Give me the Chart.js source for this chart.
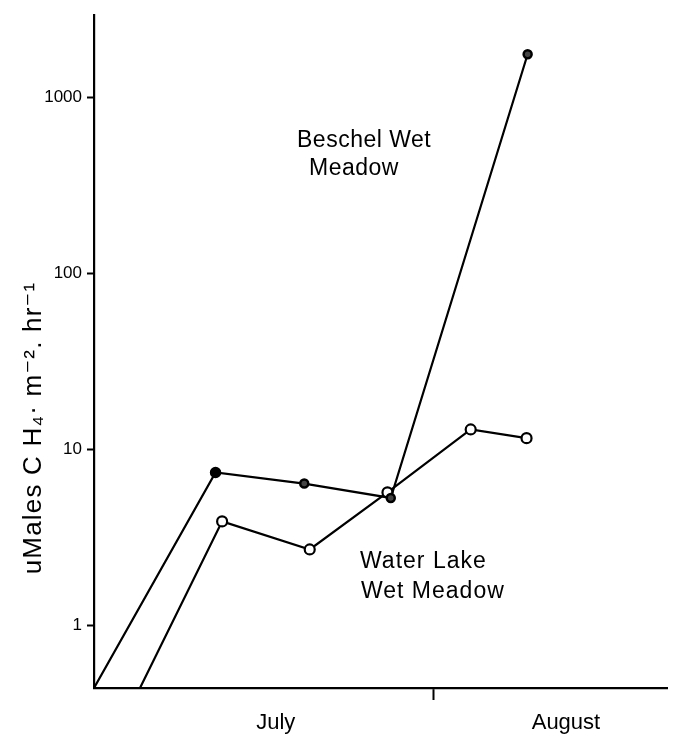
<!DOCTYPE html>
<html>
<head>
<meta charset="utf-8">
<script src="https://cdn.jsdelivr.net/npm/chart.js@4"></script>
<style>
  body { margin: 0; background: #fff; }
  canvas { display: block; }
</style>
</head>
<body>
<canvas id="fluxChart" width="675" height="747"></canvas>
<script>
// days counted from 1 July, flux in uMoles CH4 per m2 per hour
const beschelDays = [0, 11.1, 19.2, 27.1, 39.6];
const beschelFlux = [0.44, 7.4, 6.4, 5.3, 1770];
const waterDays = [4.2, 11.7, 19.7, 26.8, 34.4, 39.5];
const waterFlux = [0.44, 3.9, 2.7, 5.7, 13.0, 11.6];

const yTicks = [1, 10, 100, 1000];
const monthTicks = [16.6, 43.1];
const monthLabels = ["July", "August"];
const monthBoundary = 31;

const FONT = "'Liberation Sans', Arial, 'DejaVu Sans', sans-serif";

const ctx = document.getElementById("fluxChart").getContext("2d");

function toPoints(xs, ys) {
  return xs.map((x, i) => ({ x, y: ys[i] }));
}

const textPlugin = {
  id: "figureText",
  afterDraw(chart) {
    const c = chart.ctx;
    c.save();
    c.fillStyle = "#000";
    c.textBaseline = "alphabetic";
    c.textAlign = "left";

    // series names
    c.font = "23px " + FONT;
    c.letterSpacing = "0.5px";
    c.fillText("Beschel Wet", 297, 147);
    c.fillText("Meadow", 309, 175);
    c.letterSpacing = "1px";
    c.fillText("Water Lake", 360, 568);
    c.fillText("Wet Meadow", 361, 598);

    // y axis title
    c.letterSpacing = "1.2px";
    c.font = "26px " + FONT;
    c.translate(41, 428);
    c.rotate(-Math.PI / 2);
    c.textAlign = "center";
    c.fillText("uMales C H\u2084\u00b7 m\u207b\u00b2. hr\u207b\u00b9", 0, 0);
    c.restore();
  },
};

const chart = new Chart(ctx, {
  type: "line",
  data: {
    datasets: [
      {
        label: "Beschel Wet Meadow",
        data: toPoints(beschelDays, beschelFlux),
        borderColor: "#000",
        borderWidth: 2.2,
        pointRadius: [0, 4.5, 4, 4, 4],
        pointBackgroundColor: ["#000", "#000", "#444", "#444", "#444"],
        pointBorderColor: "#000",
        pointBorderWidth: 2.5,
        tension: 0,
      },
      {
        label: "Water Lake Wet Meadow",
        data: toPoints(waterDays, waterFlux),
        borderColor: "#000",
        borderWidth: 2.2,
        pointRadius: [0, 5, 5, 5, 5, 5],
        pointBackgroundColor: "#fff",
        pointBorderColor: "#000",
        pointBorderWidth: 2.2,
        tension: 0,
      },
    ],
  },
  options: {
    responsive: false,
    devicePixelRatio: 1,
    animation: false,
    layout: { padding: { top: 12, right: 5, left: 0, bottom: 0 } },
    plugins: {
      legend: { display: false },
      tooltip: { enabled: false },
    },
    scales: {
      x: {
        type: "linear",
        min: 0,
        max: 52.4,
        afterBuildTicks: (scale) => {
          scale.ticks = [monthTicks[0], monthBoundary, monthTicks[1]].map((v) => ({ value: v }));
        },
        afterFit: (scale) => {
          scale.height = 59;
        },
        grid: {
          drawOnChartArea: false,
          tickLength: 12,
          tickWidth: 2,
          tickColor: (c) => (c.tick && c.tick.value === monthBoundary ? "#000" : "rgba(0,0,0,0)"),
        },
        border: { display: true, color: "#000", width: 2.2 },
        ticks: {
          autoSkip: false,
          maxRotation: 0,
          padding: 10,
          color: "#000",
          font: { family: FONT, size: 22 },
          callback: (v) => {
            const i = monthTicks.indexOf(v);
            return i >= 0 ? monthLabels[i] : "";
          },
        },
      },
      y: {
        type: "logarithmic",
        min: 0.44,
        max: 2950,
        afterBuildTicks: (scale) => {
          scale.ticks = yTicks.map((v) => ({ value: v }));
        },
        afterFit: (scale) => {
          scale.width = 94;
        },
        grid: {
          drawOnChartArea: false,
          tickLength: 7,
          tickWidth: 2,
          tickColor: "#000",
        },
        border: { display: true, color: "#000", width: 2.2 },
        ticks: {
          padding: 5,
          color: "#000",
          font: { family: FONT, size: 17 },
          callback: (v) => String(v),
        },
      },
    },
  },
  plugins: [textPlugin],
});
</script>
</body>
</html>
